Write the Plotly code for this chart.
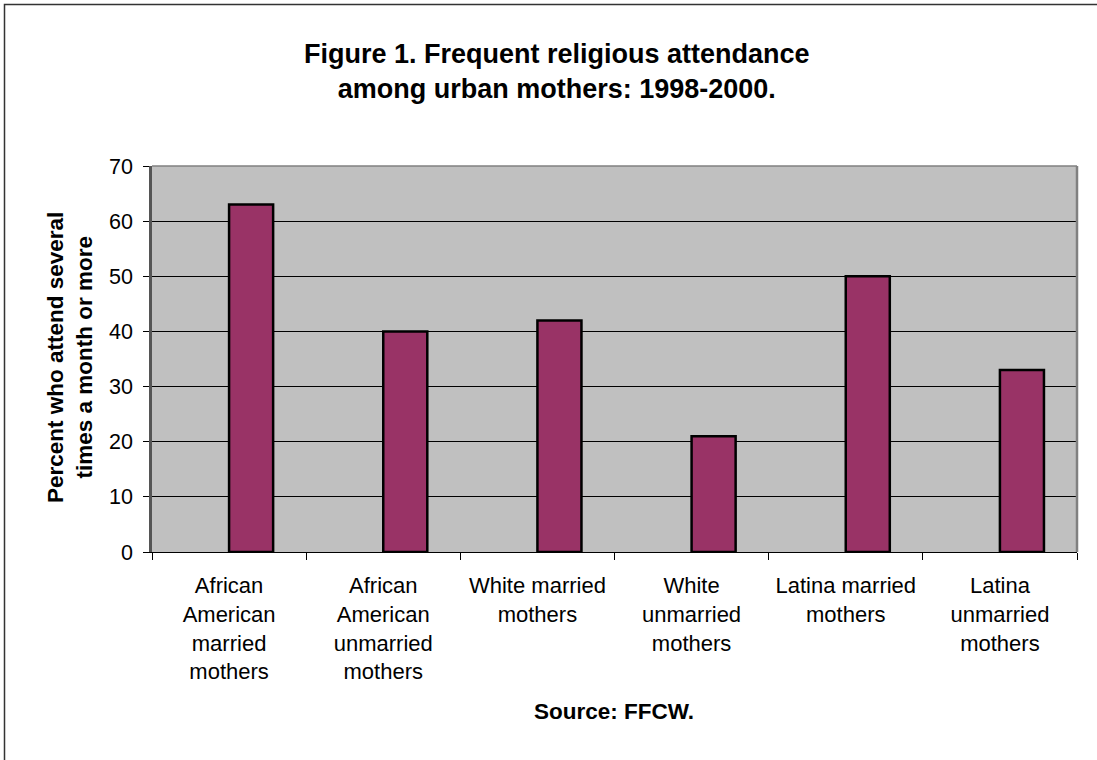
import plotly.graph_objects as go

categories = ["African<br>American<br>married<br>mothers",
              "African<br>American<br>unmarried<br>mothers",
              "White married<br>mothers",
              "White<br>unmarried<br>mothers",
              "Latina married<br>mothers",
              "Latina<br>unmarried<br>mothers"]
values = [63, 40, 42, 21, 50, 33]
y_ticks = [0, 10, 20, 30, 40, 50, 60, 70]

W, H = 1097, 760
L, R, T, B = 152, 20, 166, 208
pw, ph = W - L - R, H - T - B

def px_x(x):
    return (x - L) / pw

def px_y(y):
    return (H - B - y) / ph

fig = go.Figure()
fig.add_trace(go.Bar(
    x=categories, y=values,
    marker=dict(color="#993366", line=dict(color="black", width=2.5)),
    offset=0, width=0.2857,
))

font = "Liberation Sans, Arial, sans-serif"
fig.update_layout(
    width=W, height=H,
    margin=dict(l=L, r=R, t=T, b=B),
    paper_bgcolor="white", plot_bgcolor="#C0C0C0",
    showlegend=False,
    font=dict(family=font, color="black", size=22),
    xaxis=dict(type="category", tickson="boundaries", ticks="outside", ticklen=7,
               tickcolor="black", showline=True, linecolor="black", linewidth=1,
               showgrid=False, tickfont=dict(size=22), range=[-0.5, 5.5],
               ticklabelstandoff=14),
    yaxis=dict(range=[0, 70], tickvals=y_ticks, ticks="outside", ticklen=6,
               tickcolor="black", showline=True, linecolor="#555555", linewidth=2.5,
               showgrid=True, gridcolor="black", gridwidth=1, zeroline=False,
               tickfont=dict(size=21.5), ticklabelstandoff=6),
)

fig.add_shape(type="line", xref="paper", yref="paper", x0=1, x1=1, y0=0, y1=1,
              line=dict(color="#808080", width=2.5))
fig.add_shape(type="line", xref="paper", yref="paper", x0=0, x1=1, y0=1, y1=1,
              line=dict(color="#808080", width=1.5))
# outer chart border
fig.add_shape(type="rect", xref="paper", yref="paper",
              x0=px_x(4.5), x1=px_x(1120), y0=px_y(800), y1=px_y(4.5),
              line=dict(color="#333333", width=1.5), layer="below")

fig.add_annotation(xref="paper", yref="paper", x=px_x(557), y=px_y(71),
                   text="<b>Figure 1. Frequent religious attendance<br>among urban mothers: 1998-2000.</b>",
                   showarrow=False, font=dict(size=27, family=font), xanchor="center", yanchor="middle")
fig.add_annotation(xref="paper", yref="paper", x=px_x(70), y=px_y(358),
                   text="<b>Percent who attend several<br>times a month or more</b>",
                   textangle=-90, showarrow=False, font=dict(size=22.5, family=font),
                   xanchor="center", yanchor="middle")
fig.add_annotation(xref="paper", yref="paper", x=px_x(614), y=px_y(711),
                   text="<b>Source: FFCW.</b>",
                   showarrow=False, font=dict(size=22.5, family=font),
                   xanchor="center", yanchor="middle")

fig.write_html("out.html", config={"displayModeBar": False},
               post_script="document.body.style.margin='0';")
